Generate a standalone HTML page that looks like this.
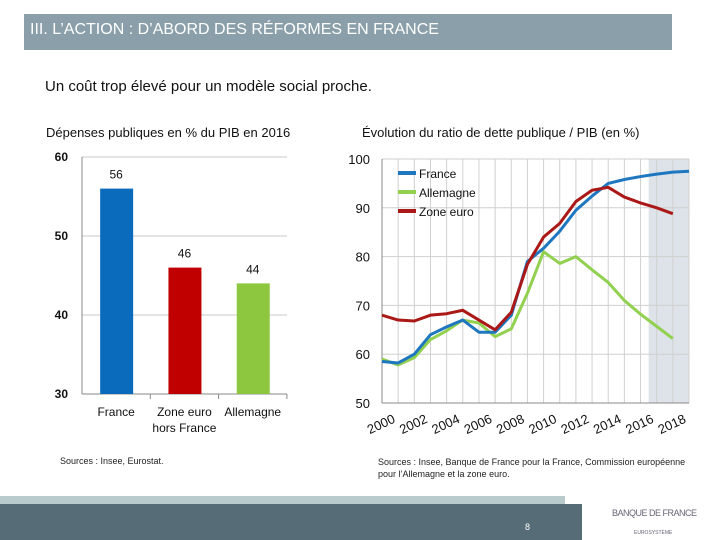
<!DOCTYPE html>
<html><head><meta charset="utf-8"><style>
body{margin:0;width:720px;height:540px;background:#fff;font-family:"Liberation Sans",sans-serif;position:relative;overflow:hidden}
.a{position:absolute}
</style></head><body>
<div class="a" style="left:24px;top:14px;width:648px;height:36px;background:#8a9fa9"></div>
<div class="a" style="left:30px;top:21px;color:#fff;font-size:16px">III. L’ACTION : D’ABORD DES RÉFORMES EN FRANCE</div>
<div class="a" style="left:45px;top:78px;font-size:15px;color:#111">Un coût trop élevé pour un modèle social proche.</div>
<div class="a" style="left:46px;top:125px;font-size:13px;color:#111">Dépenses publiques en % du PIB en 2016</div>
<div class="a" style="left:362px;top:125px;font-size:13px;color:#111">Évolution du ratio de dette publique / PIB (en %)</div>
<div class="a" style="left:60px;top:456px;font-size:9px;color:#222">Sources : Insee, Eurostat.</div>
<div class="a" style="left:378px;top:456px;font-size:9px;color:#222;line-height:12px;width:320px">Sources : Insee, Banque de France pour la France, Commission européenne pour l’Allemagne et la zone euro.</div>
<div class="a" style="left:0;top:496px;width:565px;height:8px;background:#b9cbcc"></div>
<div class="a" style="left:0;top:504px;width:582px;height:36px;background:#566d78"></div>
<div class="a" style="left:525px;top:522px;font-size:9px;color:#fff">8</div>
<div class="a" style="left:612px;top:508px;font-size:9px;color:#667;letter-spacing:-0.5px">BANQUE DE FRANCE</div>
<div class="a" style="left:634px;top:530px;font-size:5px;color:#667">EUROSYSTÈME</div>
<svg class="a" style="left:0;top:0" width="720" height="540">
<g id="bars"></g><g id="lines"></g></svg>
<script>
const barCats=["France","Zone euro|hors France","Allemagne"];
const barVals=[56,46,44];
const barColors=["#0a6bbd","#c00000","#8dc63f"];
const barTicks=[30,40,50,60];
const years=[2000,2001,2002,2003,2004,2005,2006,2007,2008,2009,2010,2011,2012,2013,2014,2015,2016,2017,2018,2019];
const franceVals=[58.5,58.2,60,64,65.6,67,64.5,64.5,68,79,81.7,85.2,89.5,92.4,95,95.8,96.4,96.9,97.3,97.5];
const germanyVals=[59,57.8,59.3,63,64.8,67,66.4,63.6,65.2,72.5,81,78.6,80,77.3,74.7,71,68.2,65.7,63.2];
const euroVals=[68,67,66.8,68,68.3,69,67,65,68.6,78.4,84,86.8,91.3,93.6,94.2,92.2,91,90,88.8];
const lineTicks=[50,60,70,80,90,100];
const xLabels=[2000,2002,2004,2006,2008,2010,2012,2014,2016,2018];
const NS="http://www.w3.org/2000/svg";
function mk(p,t,a,txt){const e=document.createElementNS(NS,t);for(const k in a)e.setAttribute(k,a[k]);if(txt!==undefined)e.textContent=txt;p.appendChild(e);return e;}
// bar chart
const B=document.getElementById('bars');
const by=v=>394-(v-30)*(394-157)/30, bx0=82, bw=68.3;
barTicks.forEach(t=>{if(t>30){const g=mk(B,'line',{x1:82,x2:287,y1:by(t),y2:by(t),stroke:'#c8c8c8','stroke-width':1});}
const l=mk(B,'text',{x:68,y:by(t)+4,'font-size':12,'text-anchor':'end',fill:'#111','font-weight':'bold'},t);});
mk(B,'line',{x1:82,x2:82,y1:157,y2:394,stroke:'#888'});
mk(B,'line',{x1:82,x2:287,y1:394,y2:394,stroke:'#888'});
barVals.forEach((v,i)=>{const cx=bx0+bw*(i+0.5);
const r=mk(B,'rect',{x:cx-16,y:by(v),width:33,height:394-by(v),fill:barColors[i]});
const t=mk(B,'text',{x:cx,y:by(v)-10,'font-size':12,'text-anchor':'middle',fill:'#111'},String(v));
barCats[i].split('|').forEach((s,j)=>{const c=mk(B,'text',{x:cx,y:416+j*16,'font-size':12,'text-anchor':'middle',fill:'#111'},s);});
mk(B,'line',{x1:bx0+bw*(i+1),x2:bx0+bw*(i+1),y1:394,y2:399,stroke:'#888'});});
// line chart
const L=document.getElementById('lines');
const x0=382,x1=689,ly=v=>403-(v-50)*(403-159)/50,lx=y=>x0+(y-2000)*(x1-x0)/19;
mk(L,'rect',{x:lx(2016.5),y:159,width:x1-lx(2016.5),height:244,fill:'#dde3e8'});
years.forEach(y=>{mk(L,'line',{x1:lx(y),x2:lx(y),y1:159,y2:403,stroke:'#d0d0d0'});});
lineTicks.forEach(t=>{mk(L,'line',{x1:x0,x2:x1,y1:ly(t),y2:ly(t),stroke:'#cfcfcf'});
const l=mk(L,'text',{x:370,y:ly(t)+5,'font-size':13,'text-anchor':'end',fill:'#111'},t);});
mk(L,'line',{x1:x0,x2:x0,y1:159,y2:403,stroke:'#888'});
mk(L,'line',{x1:x0,x2:x1,y1:403,y2:403,stroke:'#888'});
xLabels.forEach(y=>{const t=mk(L,'text',{x:lx(y)+14,y:422,'font-size':13,'text-anchor':'end',fill:'#111',transform:`rotate(-25 ${lx(y)+14} 422)`},y);});
function series(vals,col,name){const p=mk(L,'polyline',{points:vals.map((v,i)=>lx(years[i])+','+ly(v)).join(' '),fill:'none',stroke:col,'stroke-width':3,'stroke-linejoin':'round'});}
series(germanyVals,'#92d050','line-allemagne');
series(franceVals,'#1f77c0','line-france');
series(euroVals,'#aa1818','line-zone-euro');
[['France','#1f77c0'],['Allemagne','#92d050'],['Zone euro','#aa1818']].forEach((d,i)=>{const yy=171+i*19;
mk(L,'rect',{x:398,y:yy,width:18,height:4,fill:d[1]});
const t=mk(L,'text',{x:419,y:yy+7,'font-size':12,fill:'#111'},d[0]);});
</script>
</body></html>
